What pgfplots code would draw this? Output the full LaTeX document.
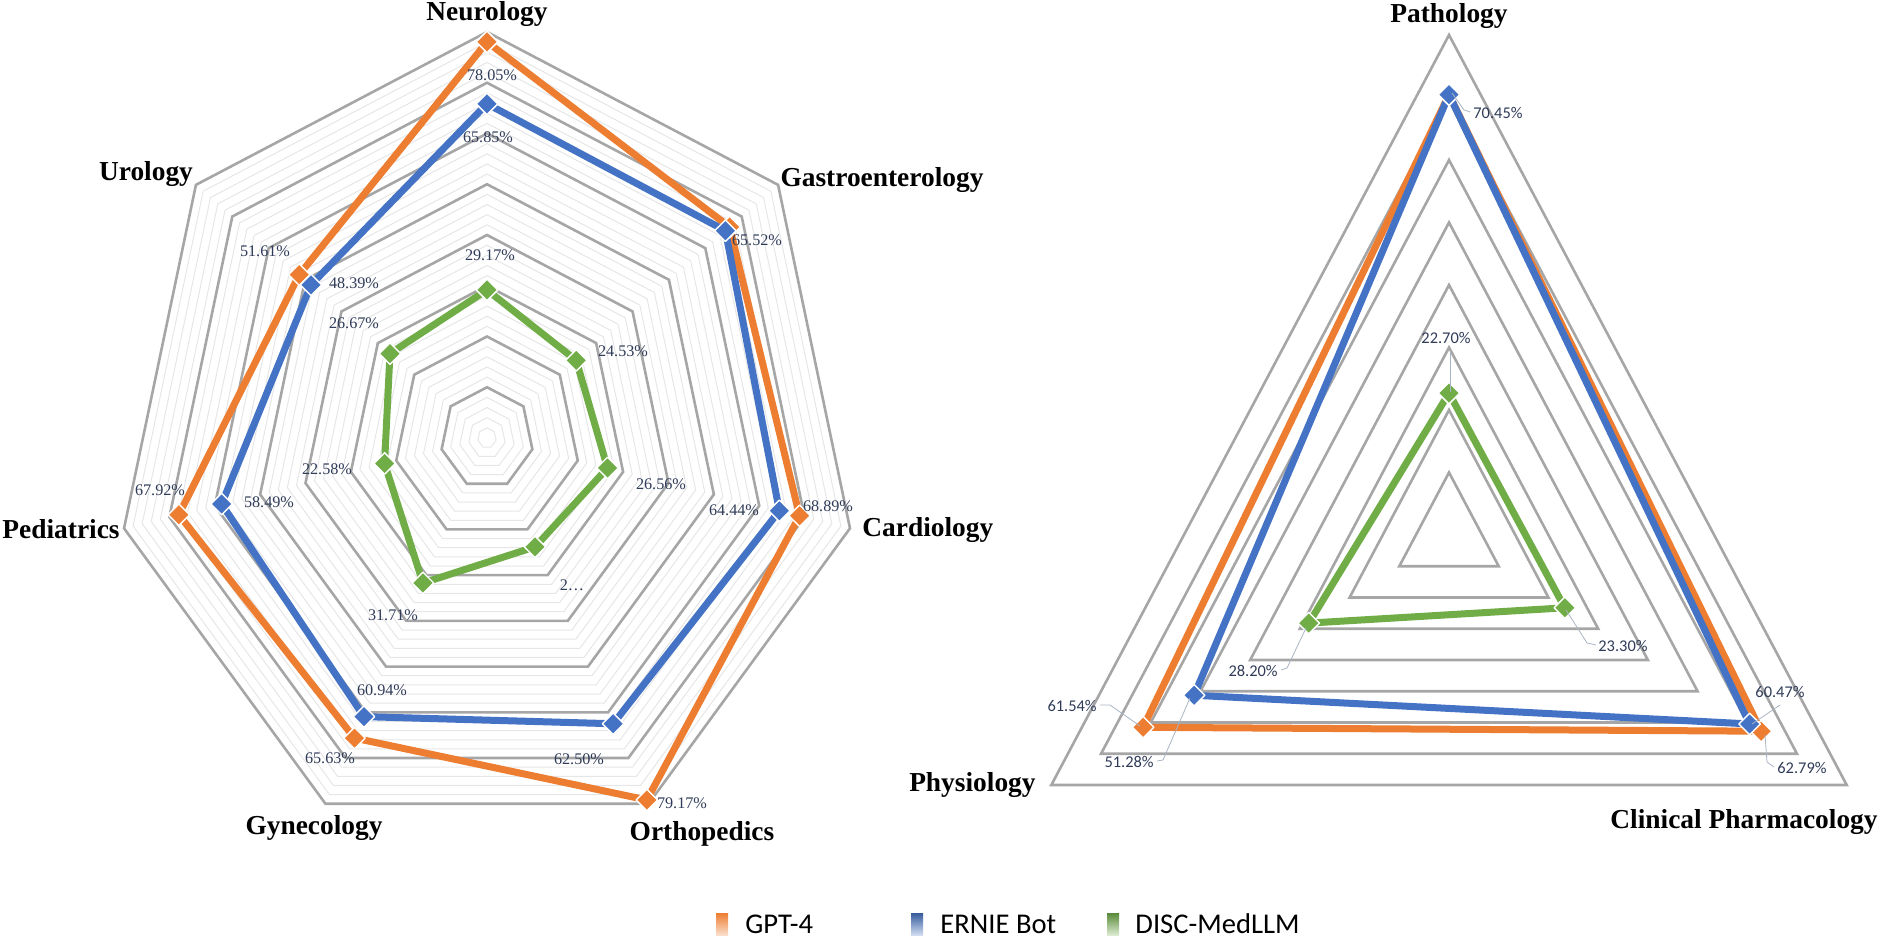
\documentclass[border=0pt]{standalone}
\usepackage{fontspec}
\setmainfont{Liberation Serif}
\newfontfamily\calibri{Carlito}
\usepackage{pgfplots}
\pgfplotsset{compat=1.18}
\usepackage{pgfplotstable}

\definecolor{cgpt}{HTML}{ED7D31}
\definecolor{cern}{HTML}{4472C4}
\definecolor{cdisc}{HTML}{70AD47}
\definecolor{gmaj}{HTML}{A6A6A6}
\definecolor{gmin}{HTML}{E6E6E6}
\definecolor{lbl}{HTML}{2F3B58}
\definecolor{lead}{HTML}{A9B4C4}

\newcommand\cat{\fontsize{13.7pt}{16pt}\selectfont\bfseries}
\newcommand\dl{\fontsize{8.1pt}{10pt}\selectfont\color{lbl}}
\newcommand\dr{\calibri\fontsize{8.2pt}{10pt}\selectfont\color{lbl}}

\pgfplotsset{
  radar/.style={hide axis, scale only axis, anchor=center,
    xmin=-100, xmax=100, ymin=-100, ymax=100, clip=false},
  ser/.style={data cs=polar, color=#1, line width=3.5pt, line join=round,
    mark=square*, mark size=3.8pt,
    mark options={rotate=45, draw=white, fill=#1, line width=0.7pt}},
  gminor/.style={data cs=polar, no marks, color=gmin, line width=0.5pt},
  gmajor/.style={data cs=polar, no marks, color=gmaj, line width=1.3pt, line join=miter},
}

% Left radar: angle (deg), value (%)
\pgfplotstableread{
ang     gpt    ern    disc
90      78.05  65.85  29.17
38.5714 66.67  65.52  24.53
-12.8571 68.89 64.44  26.56
-64.2857 79.17 62.50  23.81
-115.7143 65.63 60.94 31.71
-167.1429 67.92 58.49 22.58
-218.5714 51.61 48.39 26.67
-270    78.05  65.85  29.17
}\lefttab
% Right radar
\pgfplotstableread{
ang   gpt    ern    disc
90    70.45  70.45  22.70
-30   62.79  60.47  23.30
-150  61.54  51.28  28.20
-270  70.45  70.45  22.70
}\righttab

\begin{document}
\begin{tikzpicture}
% ---------------- left chart ----------------
\begin{axis}[radar, at={(243.5pt,249.5pt)}, width=465.4pt, height=507.5pt]
\pgfplotsinvokeforeach{2,4,6,8,12,14,16,18,22,24,26,28,32,34,36,38,42,44,46,48,52,54,56,58,62,64,66,68,72,74,76,78}{
  \addplot[gminor] coordinates {(90,#1) (38.5714,#1) (-12.8571,#1) (-64.2857,#1) (-115.7143,#1) (-167.1429,#1) (-218.5714,#1) (-270,#1)};
}
\pgfplotsinvokeforeach{10,20,30,40,50,60,70,80}{
  \addplot[gmajor] coordinates {(90,#1) (38.5714,#1) (-12.8571,#1) (-64.2857,#1) (-115.7143,#1) (-167.1429,#1) (-218.5714,#1) (-270,#1) (38.5714,#1)};
}
\addplot[ser=cgpt] table[x=ang, y=gpt] {\lefttab};
\addplot[ser=cern] table[x=ang, y=ern] {\lefttab};
\addplot[ser=cdisc] table[x=ang, y=disc] {\lefttab};
\end{axis}
% ---------------- right chart ----------------
\begin{axis}[radar, at={(724.5pt,201pt)}, width=574pt, height=625pt]
\pgfplotsinvokeforeach{10,20,30,40,50,60,70,80}{
  \addplot[gmajor] coordinates {(90,#1) (-30,#1) (-150,#1) (-270,#1) (-30,#1)};
}
\addplot[ser=cgpt] table[x=ang, y=gpt] {\righttab};
\addplot[ser=cern] table[x=ang, y=ern] {\righttab};
\addplot[ser=cdisc] table[x=ang, y=disc] {\righttab};
\end{axis}

\begin{scope}[x=0.5pt, y=-0.5pt, yshift=468.5pt]
% category labels
\node[font=\cat, inner sep=0] at (487,14) {Neurology};
\node[font=\cat, inner sep=0] at (882,180) {Gastroenterology};
\node[font=\cat, inner sep=0, anchor=west] at (862,530) {Cardiology};
\node[font=\cat, inner sep=0] at (702,834) {Orthopedics};
\node[font=\cat, inner sep=0] at (314,828) {Gynecology};
\node[font=\cat, inner sep=0, anchor=east] at (120,529) {Pediatrics};
\node[font=\cat, inner sep=0] at (146,174) {Urology};
\node[font=\cat, inner sep=0] at (1449,16) {Pathology};
\node[font=\cat, inner sep=0, anchor=east] at (1036,785) {Physiology};
\node[font=\cat, inner sep=0] at (1744,822) {Clinical Pharmacology};
% left data labels
\foreach \x/\y/\t in {492/75/78.05\%, 488/137/65.85\%, 490/255/29.17\%,
  757/240/65.52\%, 623/351/24.53\%, 828/506/68.89\%, 734/510/64.44\%,
  661/484/26.56\%, 572/585/2…, 682/803/79.17\%, 579/759/62.50\%,
  393/615/31.71\%, 382/690/60.94\%, 330/758/65.63\%, 160/490/67.92\%,
  269/502/58.49\%, 327/469/22.58\%, 265/251/51.61\%, 354/283/48.39\%,
  354/323/26.67\%}
  {\node[font=\dl, inner sep=0] at (\x,\y) {\t};}
% right leader lines
\draw[lead, line width=0.4pt] (1452,93) -- (1464,110) -- (1470,112);
\draw[lead, line width=0.4pt] (1450,350) -- (1450,392);
\draw[lead, line width=0.4pt] (1566,610) -- (1587,643) -- (1596,645);
\draw[lead, line width=0.4pt] (1281,670) -- (1287,668) -- (1306,628);
\draw[lead, line width=0.4pt] (1752,724) -- (1780,705);
\draw[lead, line width=0.4pt] (1765,735) -- (1767,762) -- (1774,767);
\draw[lead, line width=0.4pt] (1100,705) -- (1110,705) -- (1140,726);
\draw[lead, line width=0.4pt] (1157,761) -- (1163,760) -- (1190,698);
% right data labels
\node[font=\dr, inner sep=0, anchor=west] at (1473,113) {70.45\%};
\node[font=\dr, inner sep=0] at (1446,338) {22.70\%};
\node[font=\dr, inner sep=0, anchor=west] at (1598,646) {23.30\%};
\node[font=\dr, inner sep=0, anchor=east] at (1278,671) {28.20\%};
\node[font=\dr, inner sep=0] at (1780,692) {60.47\%};
\node[font=\dr, inner sep=0, anchor=west] at (1777,768) {62.79\%};
\node[font=\dr, inner sep=0, anchor=east] at (1097,706) {61.54\%};
\node[font=\dr, inner sep=0, anchor=east] at (1154,762) {51.28\%};
% legend
\shade[top color=cgpt, bottom color=cgpt!25] (716,913) rectangle (728,935);
\node[font=\calibri\fontsize{14.3pt}{16pt}\selectfont, inner sep=0, anchor=west] at (745,924) {GPT-4};
\shade[top color=cern!80!black, bottom color=cern!25] (911,913) rectangle (923,935);
\node[font=\calibri\fontsize{14.3pt}{16pt}\selectfont, inner sep=0, anchor=west] at (940,924) {ERNIE Bot};
\shade[top color=cdisc!80!black, bottom color=cdisc!25] (1107,913) rectangle (1119,935);
\node[font=\calibri\fontsize{14.3pt}{16pt}\selectfont, inner sep=0, anchor=west] at (1135,924) {DISC-MedLLM};
\end{scope}
\pgfresetboundingbox
\path[use as bounding box] (0,0) rectangle (952pt,468.5pt);
\end{tikzpicture}
\end{document}
